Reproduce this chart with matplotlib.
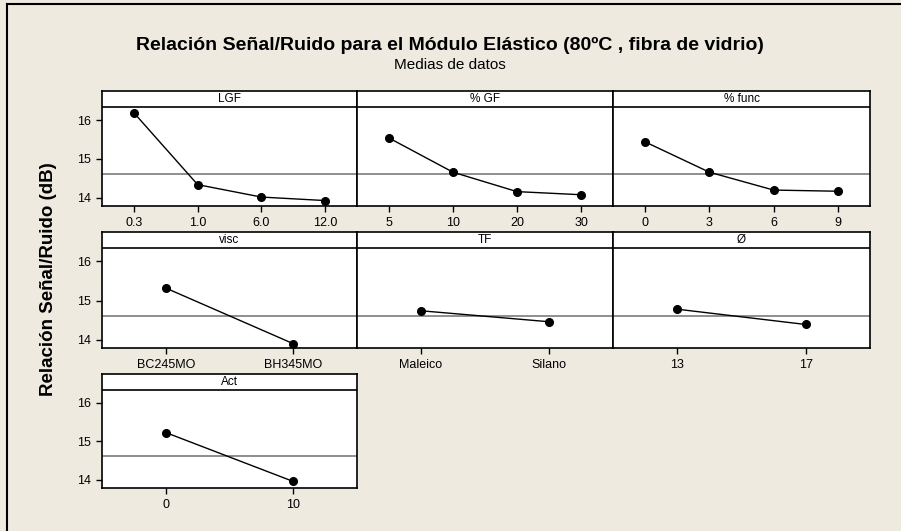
import matplotlib
matplotlib.use('Agg')
import matplotlib.pyplot as plt
from matplotlib.lines import Line2D
import matplotlib.transforms as mtransforms

# Main effects plot for S/N ratios (Minitab style)
factors = ['LGF', '% GF', '% func', 'visc', 'TF', 'Ø', 'Act']
levels = [
    ['0.3', '1.0', '6.0', '12.0'],
    ['5', '10', '20', '30'],
    ['0', '3', '6', '9'],
    ['BC245MO', 'BH345MO'],
    ['Maleico', 'Silano'],
    ['13', '17'],
    ['0', '10'],
]
sn_means = [
    [16.19, 14.34, 14.02, 13.93],
    [15.54, 14.66, 14.16, 14.08],
    [15.44, 14.66, 14.20, 14.17],
    [15.32, 13.90],
    [14.74, 14.46],
    [14.78, 14.39],
    [15.23, 13.96],
]
grand_mean = 14.61
yticks = [14, 15, 16]

W, H = 901, 531
bg = '#EEEAE0'
font = 'Liberation Sans'

col_x = [102, 357, 613, 870]
row_top = [91, 232, 374]
row_bot = [206, 348, 488]
y_lo, y_strip, y_hi = 13.79, 16.34, 16.75

fig = plt.figure(figsize=(W / 100, H / 100), dpi=100)
fig.patch.set_facecolor(bg)

# outer frame (only top and left edges visible)
fig.add_artist(Line2D([7 / W, 7 / W], [0, 1 - 4 / H], color='black', lw=1.5,
                      transform=fig.transFigure))
fig.add_artist(Line2D([7 / W, 1], [1 - 4 / H, 1 - 4 / H], color='black', lw=1.5,
                      transform=fig.transFigure))

fig.text(450 / W, 1 - 45 / H,
         'Relación Señal/Ruido para el Módulo Elástico (80ºC , fibra de vidrio)',
         ha='center', va='center', fontsize=14, fontweight='bold', family=font)
fig.text(450 / W, 1 - 65 / H, 'Medias de datos', ha='center', va='center',
         fontsize=11, family=font)
fig.text(49 / W, 1 - 279 / H, 'Relación Señal/Ruido (dB)', rotation=90,
         ha='center', va='center', fontsize=13.5, fontweight='bold', family=font)

for i, name in enumerate(factors):
    r, c = divmod(i, 3)
    x0, x1 = col_x[c], col_x[c + 1]
    y0, y1 = row_top[r], row_bot[r]
    ax = fig.add_axes([x0 / W, 1 - y1 / H, (x1 - x0) / W, (y1 - y0) / H])
    ax.set_facecolor('white')

    labs = levels[i]
    pos = list(range(len(labs)))
    ax.axhline(grand_mean, color='#707070', lw=1.1)
    ax.plot(pos, sn_means[i], color='black', lw=1, marker='o', ms=5.5,
            mfc='black', mec='black')

    ax.set_xlim(-0.5, len(labs) - 0.5)
    ax.set_ylim(y_lo, y_hi)
    ax.set_xticks(pos)
    ax.set_xticklabels(labs, fontsize=9, family=font)

    # strip with factor name
    ax.axhline(y_strip, color='black', lw=1.2)
    trans = mtransforms.blended_transform_factory(ax.transAxes, ax.transData)
    ax.text(0.5, (y_strip + y_hi) / 2, name, transform=trans, ha='center',
            va='center', fontsize=8.5, family=font)

    for s in ax.spines.values():
        s.set_linewidth(1.2)
        s.set_color('black')

    if c == 0:
        ax.set_yticks(yticks)
        ax.set_yticklabels([str(t) for t in yticks], fontsize=9, family=font)
    else:
        ax.set_yticks([])
    ax.tick_params(direction='out', length=4, width=1, pad=4, color='black')

fig.savefig('out.png', dpi=100, facecolor=bg)
